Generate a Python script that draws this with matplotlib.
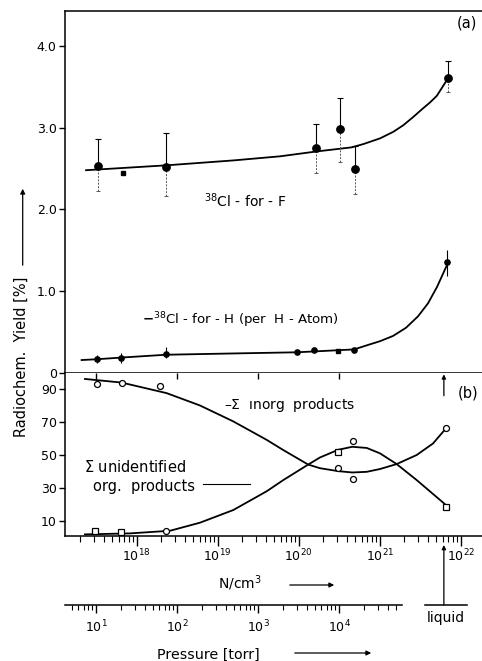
import numpy as np
import matplotlib
matplotlib.use("Agg")
import matplotlib.pyplot as plt
from matplotlib.ticker import LogLocator, NullFormatter, FixedLocator
import matplotlib.transforms as mtrans
from matplotlib.patches import FancyArrowPatch

plt.rcParams['font.family'] = ['DejaVu Sans']
plt.rcParams['mathtext.fontset'] = 'dejavusans'

# ---------------- data ----------------
# panel (a): 38Cl-for-F (yield %)
f_N = [3.30e17, 2.30e18, 1.65e20, 3.28e20, 4.95e20, 7.06e21]
f_y = [2.53, 2.52, 2.75, 2.98, 2.50, 3.61]
f_hi = [2.86, 2.93, 3.04, 3.37, 2.78, 3.82]
f_lo = [2.22, 2.16, 2.45, 2.58, 2.19, 3.44]
f_sq_N = [6.71e17]
f_sq_y = [2.44]
f_curve_N = [2.37e17, 2.34e18, 1.56e19, 5.87e19, 1.67e20, 4.51e20, 6.28e20,
             1.01e21, 1.47e21, 1.95e21, 2.58e21, 3.45e21, 4.18e21, 5.06e21,
             5.79e21, 6.71e21]
f_curve_y = [2.48, 2.54, 2.60, 2.65, 2.71, 2.76, 2.80, 2.87, 2.95, 3.03,
             3.13, 3.24, 3.31, 3.39, 3.48, 3.58]

# panel (a): 38Cl-for-H (per H-atom)
h_N = [3.20e17, 6.40e17, 2.27e18, 9.40e19, 1.56e20, 4.82e20, 6.84e21]
h_y = [0.164, 0.184, 0.225, 0.25, 0.28, 0.28, 1.36]
h_hi = [0.22, 0.245, 0.32, 0.25, 0.28, 0.28, 1.50]
h_lo = [0.12, 0.12, 0.18, 0.25, 0.28, 0.28, 1.18]
h_sq_N = [3.08e20]
h_sq_y = [0.27]
h_curve_N = [2.09e17, 3.24e17, 6.40e17, 2.30e18, 1.42e19, 9.53e19, 4.82e20,
             6.92e20, 1.01e21, 1.46e21, 2.11e21, 2.97e21, 3.95e21, 5.10e21, 6.71e21]
h_curve_y = [0.155, 0.165, 0.185, 0.22, 0.235, 0.25, 0.285, 0.335, 0.386,
             0.45, 0.55, 0.69, 0.85, 1.05, 1.31]

# panel (b): sum inorganic products (%)
inorg_N = [3.20e17, 6.53e17, 1.94e18, 3.08e20, 4.65e20, 6.60e21]
inorg_y = [93.1, 93.7, 92.1, 41.9, 35.4, 66.6]
inorg_curve_N = [2.30e17, 6.53e17, 2.34e18, 6.04e18, 1.56e19, 4.03e19, 6.46e19,
                 1.31e20, 1.83e20, 3.08e20, 4.59e20, 6.92e20, 1.01e21, 1.62e21,
                 2.86e21, 4.55e21, 6.59e21]
inorg_curve_y = [96.2, 94.0, 87.6, 80.1, 70.4, 59.2, 53.0, 44.2, 42.0, 40.2,
                 39.4, 39.8, 41.5, 44.5, 50.0, 57.0, 66.2]

# panel (b): sum unidentified organic products (%)
org_N = [3.10e17, 6.40e17, 3.08e20, 6.60e21]
org_y = [3.8, 3.4, 52.0, 18.4]
org_circ_N = [2.30e18, 4.65e20]
org_circ_y = [3.8, 58.7]
org_curve_N = [2.30e17, 8.26e17, 2.58e18, 6.04e18, 1.56e19, 4.03e19, 6.46e19,
               1.31e20, 1.83e20, 3.08e20, 4.59e20, 6.92e20, 1.01e21, 1.62e21,
               2.86e21, 6.59e21]
org_curve_y = [1.8, 2.4, 4.0, 8.9, 16.6, 28.0, 34.8, 44.2, 48.5, 53.2, 55.0,
               54.3, 51.0, 44.5, 34.8, 19.6]

liquid_N = 6.2e21

a_ticks = [0, 1, 2, 3, 4]
a_labels = ['0', '1.0', '2.0', '3.0', '4.0']
b_ticks = [10, 30, 50, 70, 90]
N_ticks = [1e18, 1e19, 1e20, 1e21, 1e22]
P_ticks = [1e1, 1e2, 1e3, 1e4]
P_per_N = 10 ** -16.5

# ---------------- layout ----------------
W, H = 482, 661
fig = plt.figure(figsize=(W / 100, H / 100), dpi=100)


def fx(px):
    return px / W


def fy(py):
    return 1 - py / H


xlim = (10 ** 17.115, 10 ** 22.263)
ax_a = fig.add_axes([fx(65), fy(372.7), fx(482 - 65), (372.7 - 11) / H])
ax_b = fig.add_axes([fx(65), fy(535.7), fx(482 - 65), (535.7 - 372.7) / H])

for ax in (ax_a, ax_b):
    ax.set_xscale('log')
    ax.set_xlim(*xlim)
    ax.spines['right'].set_visible(False)
    for s in ax.spines.values():
        s.set_linewidth(1.1)
    ax.tick_params(axis='y', direction='out', length=4, width=1, labelsize=9, pad=2)

# ---- panel a ----
ax_a.set_ylim(0, 4.43)
ax_a.set_yticks(a_ticks)
ax_a.set_yticklabels(a_labels)
ax_a.tick_params(axis='x', which='both', bottom=False, labelbottom=False)

ax_a.plot(f_curve_N, f_curve_y, color='black', lw=1.3, zorder=2)
ax_a.plot(h_curve_N, h_curve_y, color='black', lw=1.3, zorder=2)

f_up = [h - y for h, y in zip(f_hi, f_y)]
f_dn = [y - l for y, l in zip(f_y, f_lo)]
ax_a.errorbar(f_N, f_y, yerr=[[0] * len(f_y), f_up], fmt='none', ecolor='black',
              elinewidth=0.8, capsize=2.2, capthick=0.8, zorder=3)
eb = ax_a.errorbar(f_N, f_y, yerr=[f_dn, [0] * len(f_y)], fmt='none', ecolor='#555555',
                   elinewidth=0.7, capsize=1.5, capthick=0.7, zorder=3)
eb[2][0].set_linestyle((0, (2, 1.5)))
ax_a.plot(f_N, f_y, 'o', color='black', ms=5.3, zorder=4)
ax_a.plot(f_sq_N, f_sq_y, 's', color='black', ms=3.2, zorder=4)

h_up = [h - y for h, y in zip(h_hi, h_y)]
h_dn = [y - l for y, l in zip(h_y, h_lo)]
ax_a.errorbar(h_N, h_y, yerr=[h_dn, h_up], fmt='none', ecolor='black',
              elinewidth=0.8, capsize=0, zorder=3)
ax_a.plot(h_N, h_y, 'o', color='black', ms=3.8, zorder=4)
ax_a.plot(h_sq_N, h_sq_y, 's', color='black', ms=3, zorder=4)

ax_a.text(fx(467), fy(23), '(a)', transform=fig.transFigure, ha='center', va='center', fontsize=10.5)
ax_a.text(fx(204), fy(201), r'$^{38}$Cl - for - F', transform=fig.transFigure,
          ha='left', va='center', fontsize=10)
ax_a.text(fx(142), fy(320), r'$\mathbf{-}^{38}$Cl - for - H (per  H - Atom)', transform=fig.transFigure,
          ha='left', va='center', fontsize=9.6)

# ---- panel b ----
ax_b.set_ylim(1, 100)
ax_b.set_yticks(b_ticks)
ax_b.spines['top'].set_visible(False)
ax_b.xaxis.set_major_locator(FixedLocator(N_ticks))
ax_b.xaxis.set_minor_locator(LogLocator(base=10, subs=np.arange(2, 10)))
ax_b.xaxis.set_minor_formatter(NullFormatter())
ax_b.tick_params(axis='x', which='major', direction='out', length=7, width=1,
                 labelsize=9, pad=2)
ax_b.tick_params(axis='x', which='minor', direction='out', length=4, width=0.8)

ax_b.plot(inorg_curve_N, inorg_curve_y, color='black', lw=1.3, zorder=2)
ax_b.plot(org_curve_N, org_curve_y, color='black', lw=1.3, zorder=2)
ax_b.plot(inorg_N, inorg_y, 'o', mfc='white', mec='black', mew=0.9, ms=4.3, zorder=4)
ax_b.plot(org_circ_N, org_circ_y, 'o', mfc='white', mec='black', mew=0.9, ms=4.3, zorder=4)
ax_b.plot(org_N, org_y, 's', mfc='white', mec='black', mew=0.9, ms=3.8, zorder=4)

# pressure-decade ticks on the top edge of panel b
sec = ax_b.secondary_xaxis('top', functions=(lambda n: n * P_per_N, lambda p: p / P_per_N))
sec.xaxis.set_major_locator(FixedLocator(P_ticks))
sec.xaxis.set_minor_locator(FixedLocator([]))
sec.tick_params(axis='x', direction='in', length=4, width=1, labeltop=False)
sec.spines['top'].set_visible(False)

ax_b.annotate('', xy=(liquid_N, 99), xytext=(liquid_N, 86),
              arrowprops=dict(arrowstyle='-|>', color='black', lw=0.9,
                              mutation_scale=6, shrinkA=0, shrinkB=0))
ax_b.text(fx(468), fy(393), '(b)', transform=fig.transFigure, ha='center', va='center', fontsize=10.5)
ax_b.text(fx(224), fy(405), r'–$\Sigma$  ınorg  products', transform=fig.transFigure,
          ha='left', va='center', fontsize=10)
ax_b.text(fx(84), fy(467), r'$\Sigma$ unidentified', transform=fig.transFigure,
          ha='left', va='center', fontsize=10.5)
ax_b.text(fx(93), fy(486), 'org.  products', transform=fig.transFigure,
          ha='left', va='center', fontsize=10.5)
fig.add_artist(plt.Line2D([fx(203), fx(250)], [fy(484), fy(484)], transform=fig.transFigure,
                          color='black', lw=0.8))

# ---- pressure axis ----
ax_p = fig.add_axes([fx(65), fy(605), fx(401.7 - 65), 0.001])
ax_p.set_xscale('log')
ax_p.set_xlim(10 ** 0.615, 10 ** 4.772)
for s in ('top', 'left', 'right'):
    ax_p.spines[s].set_visible(False)
ax_p.spines['bottom'].set_linewidth(1.1)
ax_p.set_yticks([])
ax_p.xaxis.set_major_locator(FixedLocator(P_ticks))
ax_p.xaxis.set_minor_locator(LogLocator(base=10, subs=np.arange(2, 10)))
ax_p.xaxis.set_minor_formatter(NullFormatter())
ax_p.tick_params(axis='x', which='major', direction='out', length=6, width=1,
                 labelsize=9, pad=4)
ax_p.tick_params(axis='x', which='minor', direction='out', length=3.5, width=0.8)
ax_p.patch.set_visible(False)

# liquid marker: short baseline and arrow pointing up to the N axis
blend = mtrans.blended_transform_factory(ax_b.transData, fig.transFigure)
fig.add_artist(plt.Line2D([fx(425), fx(467)], [fy(605), fy(605)], transform=fig.transFigure,
                          color='black', lw=1.1))
ax_b.annotate('', xy=(liquid_N, fy(545)), xycoords=blend,
              xytext=(liquid_N, fy(605)), textcoords=blend,
              arrowprops=dict(arrowstyle='-|>', color='black', lw=0.9,
                              mutation_scale=6, shrinkA=0, shrinkB=0),
              annotation_clip=False)
fig.text(fx(446), fy(618), 'liquid', ha='center', va='center', fontsize=10)

# axis titles with arrows
fig.text(fx(240), fy(583), r'N/cm$^3$', ha='center', va='center', fontsize=10)
fig.add_artist(FancyArrowPatch((fx(287), fy(585)), (fx(337), fy(585)),
               transform=fig.transFigure, arrowstyle='-|>', mutation_scale=7, lw=0.9, color='black'))
fig.text(fx(208), fy(655), 'Pressure [torr]', ha='center', va='center', fontsize=10.3)
fig.add_artist(FancyArrowPatch((fx(292), fy(653)), (fx(374), fy(653)),
               transform=fig.transFigure, arrowstyle='-|>', mutation_scale=7, lw=0.9, color='black'))

fig.text(fx(21), fy(357), 'Radiochem.  Yield [%]', rotation=90, ha='center', va='center', fontsize=10.5)
fig.add_artist(FancyArrowPatch((fx(22.7), fy(268)), (fx(22.7), fy(186)),
               transform=fig.transFigure, arrowstyle='-|>', mutation_scale=7, lw=0.9, color='black'))

fig.savefig('out.png', dpi=100)
